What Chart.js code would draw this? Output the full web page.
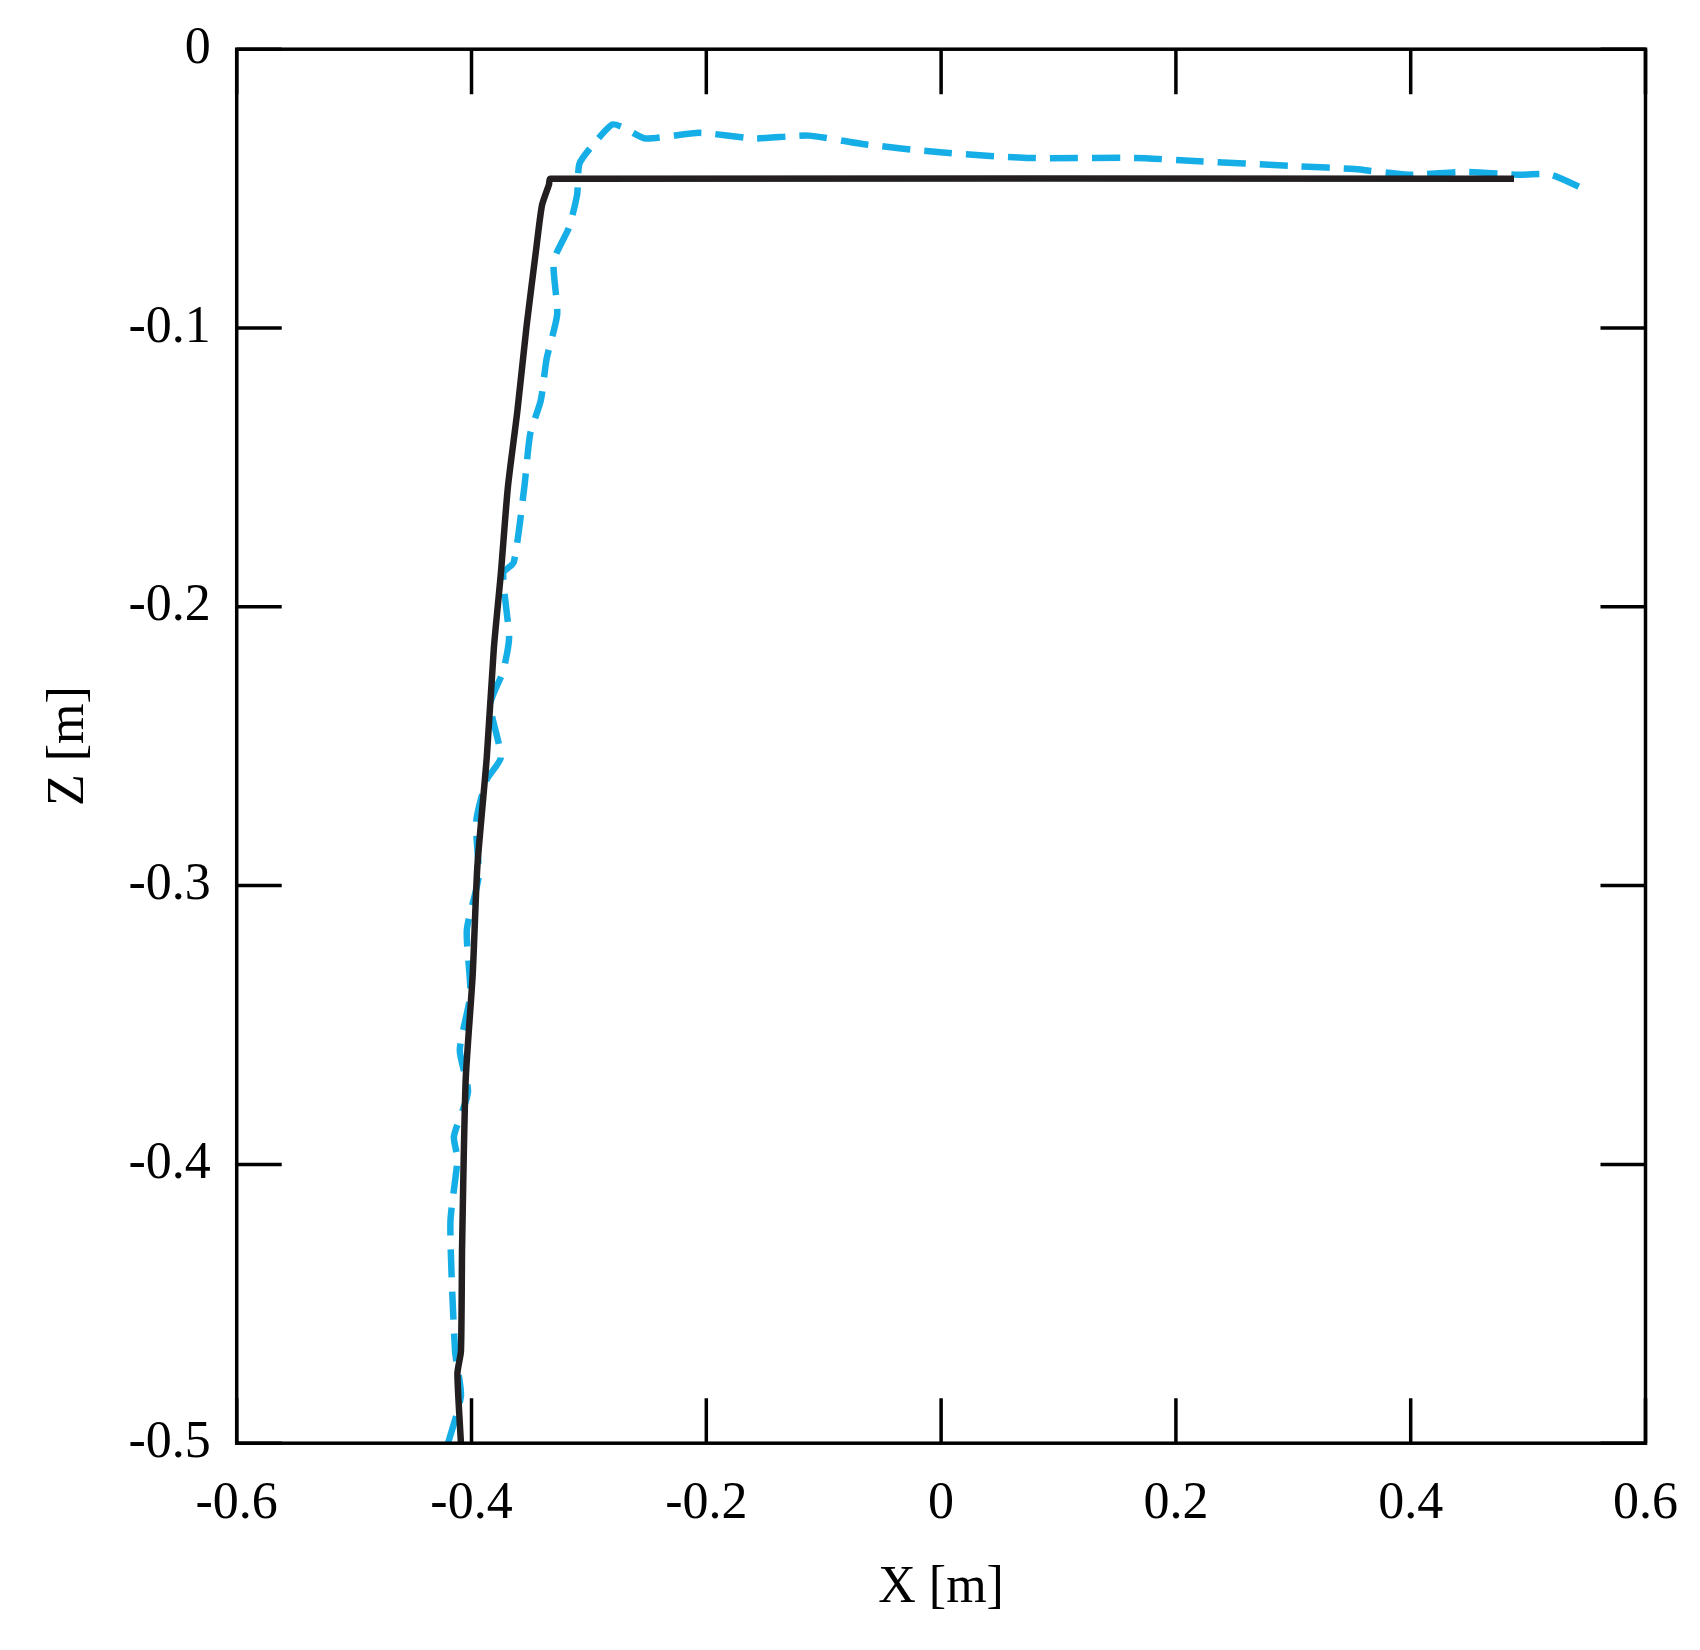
<!DOCTYPE html>
<html><head><meta charset="utf-8">
<script src="https://cdn.jsdelivr.net/npm/chart.js@4"></script>
<style>body{margin:0;background:#fff}#wrap{width:1700px;height:1650px}</style>
</head><body><div id="wrap"><canvas id="c"></canvas></div>
<script>
const refX = [-0.409,-0.412,-0.409,-0.408,-0.405,-0.399,-0.395,-0.387,-0.381,-0.375,-0.369,-0.361,-0.353,-0.345,-0.340,-0.334,-0.333,0.488];
const refZ = [-0.500,-0.475,-0.467,-0.429,-0.370,-0.332,-0.293,-0.254,-0.215,-0.188,-0.157,-0.130,-0.099,-0.072,-0.056,-0.0485,-0.0465,-0.0465];
const measX = [-0.420,-0.409,-0.414,-0.418,-0.412,-0.415,-0.403,-0.410,-0.401,-0.404,-0.394,-0.396,-0.387,-0.375,-0.384,-0.373,-0.368,-0.373,-0.364,-0.355,-0.350,-0.341,-0.336,-0.327,-0.330,-0.317,-0.310,-0.308,-0.294,-0.280,-0.271,-0.252,-0.206,-0.159,-0.113,-0.067,-0.001,0.073,0.166,0.212,0.305,0.352,0.398,0.445,0.491,0.519,0.547];
const measZ = [-0.500,-0.483,-0.467,-0.421,-0.398,-0.390,-0.374,-0.359,-0.339,-0.316,-0.297,-0.277,-0.262,-0.254,-0.235,-0.223,-0.211,-0.188,-0.184,-0.157,-0.138,-0.126,-0.111,-0.095,-0.076,-0.064,-0.052,-0.041,-0.033,-0.027,-0.028,-0.032,-0.030,-0.032,-0.031,-0.034,-0.037,-0.039,-0.039,-0.040,-0.042,-0.043,-0.045,-0.044,-0.045,-0.045,-0.050];
const xTicks = [-0.6,-0.4,-0.2,0,0.2,0.4,0.6];
const zTicks = [0,-0.1,-0.2,-0.3,-0.4,-0.5];

const pts = (xs, ys) => xs.map((x, i) => ({x: x, y: ys[i]}));
const fmt = v => String(Math.round(v * 10) / 10);

const inTicks = {
  id: 'inTicks',
  afterDraw(chart) {
    const {ctx, chartArea: a, scales} = chart;
    ctx.save();
    ctx.strokeStyle = '#000'; ctx.lineWidth = 3.5;
    ctx.strokeRect(a.left, a.top, a.right - a.left, a.bottom - a.top);
    ctx.beginPath();
    xTicks.forEach(v => {
      const p = scales.x.getPixelForValue(v);
      ctx.moveTo(p, a.bottom); ctx.lineTo(p, a.bottom - 45);
      ctx.moveTo(p, a.top); ctx.lineTo(p, a.top + 45);
    });
    zTicks.forEach(v => {
      const p = scales.y.getPixelForValue(v);
      ctx.moveTo(a.left, p); ctx.lineTo(a.left + 45, p);
      ctx.moveTo(a.right, p); ctx.lineTo(a.right - 45, p);
    });
    ctx.stroke();
    ctx.restore();
  }
};

const font = {family: '"Liberation Serif", "DejaVu Serif", serif', size: 52};
new Chart(document.getElementById('c'), {
  type: 'scatter',
  data: {datasets: [
    {data: pts(refX, refZ), showLine: true, borderColor: '#231f20', borderWidth: 6.5, pointRadius: 0, tension: 0.2},
    {data: pts(measX, measZ), showLine: true, borderColor: '#16aee6', borderWidth: 6.5, borderDash: [28, 14], pointRadius: 0, tension: 0.2}
  ]},
  options: {
    responsive: true, maintainAspectRatio: false, animation: false,
    layout: {padding: {top: 44, right: 45, left: 28, bottom: 30}},
    plugins: {legend: {display: false}, tooltip: {enabled: false}},
    scales: {
      x: {min: -0.6, max: 0.6, afterBuildTicks: s => { s.ticks = xTicks.map(v => ({value: v})); },
        grid: {display: false}, border: {display: false},
        ticks: {color: '#000', font: font, padding: 22, maxRotation: 0, callback: fmt},
        title: {display: true, text: 'X [m]', color: '#000', font: font, padding: 0}},
      y: {min: -0.5, max: 0, afterBuildTicks: s => { s.ticks = zTicks.map(v => ({value: v})); },
        grid: {display: false}, border: {display: false},
        ticks: {color: '#000', font: font, padding: 18, callback: fmt},
        title: {display: true, text: 'Z [m]', color: '#000', font: font, padding: 10}}
    }
  },
  plugins: [inTicks]
});
</script></body></html>
